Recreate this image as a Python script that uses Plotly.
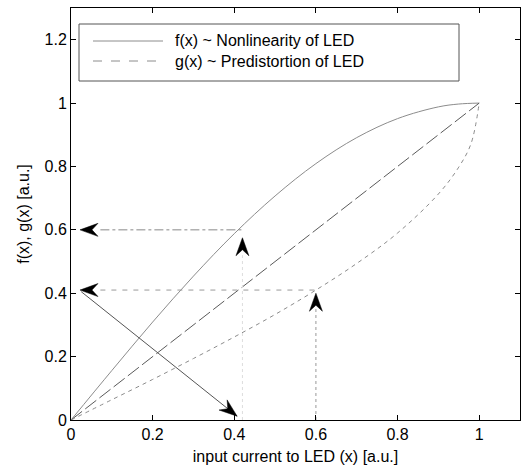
import plotly.graph_objects as go

# ---- data ----
x_f = [0.0, 0.1, 0.2, 0.3, 0.4, 0.5, 0.6, 0.7, 0.8, 0.9, 0.95, 1.0]
f_vals = [0.0, 0.156, 0.309, 0.454, 0.588, 0.707, 0.809, 0.891, 0.951, 0.988, 0.997, 1.0]

x_g = [0.0, 0.1, 0.2, 0.3, 0.4, 0.5, 0.6, 0.7, 0.8, 0.9, 0.95, 0.98, 1.0]
g_vals = [0.0, 0.064, 0.128, 0.194, 0.262, 0.333, 0.410, 0.494, 0.590, 0.713, 0.798, 0.872, 1.0]

x_diag = [0.0, 1.0]
y_diag = [0.0, 1.0]

# operating-point values used by the arrows
x_orig = 0.60      # original input
g_level = 0.41     # g(x_orig)
x_pre = 0.42       # predistorted input
f_level = 0.60     # f(x_pre)
x_left = 0.022     # where horizontal arrows end (near y axis)

x_ticks = [0, 0.2, 0.4, 0.6, 0.8, 1]
y_ticks = [0, 0.2, 0.4, 0.6, 0.8, 1, 1.2]
legend_names = ["f(x) ~ Nonlinearity of LED", "g(x) ~ Predistortion of LED"]

FONT = "Liberation Sans, Arial, Helvetica, sans-serif"

# plot geometry (pixels)
L, R, T, B = 71, 2, 8, 46
W, H = 522, 466
pw, ph = W - L - R, H - T - B
xr, yr = [0, 1.1], [0, 1.3]
sx = pw / (xr[1] - xr[0])
sy = ph / (yr[1] - yr[0])

HEAD_LEN, HEAD_HALF, NOTCH = 18, 6.5, 12


def head_path(tip, tail):
    """MATLAB-like notched arrow head at data point `tip`, pointing away from `tail`."""
    dxp = (tip[0] - tail[0]) * sx
    dyp = -(tip[1] - tail[1]) * sy  # screen y (down)
    n = (dxp ** 2 + dyp ** 2) ** 0.5
    ux, uy = dxp / n, dyp / n
    nx, ny = -uy, ux

    def pt(back, side):
        px = -ux * back + nx * side
        py = -uy * back + ny * side
        return tip[0] + px / sx, tip[1] - py / sy

    pts = [pt(0, 0), pt(HEAD_LEN, HEAD_HALF), pt(NOTCH, 0), pt(HEAD_LEN, -HEAD_HALF)]
    return "M" + " L".join(f"{a:.5f},{b:.5f}" for a, b in pts) + " Z"


fig = go.Figure()

# main curves
fig.add_trace(go.Scatter(x=x_f, y=f_vals, mode="lines", name=legend_names[0],
                         line=dict(color="#8c8c8c", width=1, shape="spline"), showlegend=False))
fig.add_trace(go.Scatter(x=x_diag, y=y_diag, mode="lines", name="x",
                         line=dict(color="#5a5a5a", width=1, dash="14px,4px"), showlegend=False))
fig.add_trace(go.Scatter(x=x_g, y=g_vals, mode="lines", name=legend_names[1],
                         line=dict(color="#8c8c8c", width=1, dash="4px,4px", shape="spline"), showlegend=False))

# helper lines
fig.add_trace(go.Scatter(x=[x_left + 0.05, x_pre], y=[f_level, f_level], mode="lines",
                         line=dict(color="#888888", width=1, dash="dashdot"), showlegend=False))
fig.add_trace(go.Scatter(x=[x_left + 0.05, x_orig], y=[g_level, g_level], mode="lines",
                         line=dict(color="#9a9a9a", width=1, dash="5px,6px"), showlegend=False))
fig.add_trace(go.Scatter(x=[x_orig, x_orig], y=[0, g_level - 0.06], mode="lines",
                         line=dict(color="#999999", width=1, dash="dot"), showlegend=False))
fig.add_trace(go.Scatter(x=[x_pre, x_pre], y=[0, f_level - 0.08], mode="lines",
                         line=dict(color="#dddddd", width=1, dash="dot"), showlegend=False))
# mirror line from g level on the y axis to x_pre on the x axis
diag_start = (x_left + 0.003, g_level - 0.005)
diag_end = (x_pre - 0.013, 0.012)
fig.add_trace(go.Scatter(x=[diag_start[0], diag_end[0]], y=[diag_start[1], diag_end[1]],
                         mode="lines", line=dict(color="#555555", width=1), showlegend=False))

# arrow heads
heads = [
    ((x_left, f_level), (x_pre, f_level)),
    ((x_left, g_level), (x_orig, g_level)),
    ((x_pre, f_level - 0.025), (x_pre, 0)),
    ((x_orig, g_level - 0.01), (x_orig, 0)),
    (diag_end, diag_start),
]
shapes = [dict(type="path", xref="x", yref="y", path=head_path(tip, tail),
               fillcolor="black", line=dict(color="black", width=0.5), layer="above")
          for tip, tail in heads]

annotations = []
# custom legend (MATLAB-like box)
lx0, lx1 = (79 - L) / pw, (459 - L) / pw
ly0, ly1 = (H - B - 81) / ph, (H - B - 24) / ph
shapes.append(dict(type="rect", xref="paper", yref="paper", x0=lx0, x1=lx1, y0=ly0, y1=ly1,
                   line=dict(color="#555555", width=1), fillcolor="white", layer="above"))
row_y = [(H - B - 41) / ph, (H - B - 61) / ph]
seg_x = [(93 - L) / pw, (163 - L) / pw]
styles = [dict(color="#8c8c8c", width=1), dict(color="#8c8c8c", width=1, dash="dash")]
for yy, st, name in zip(row_y, styles, legend_names):
    shapes.append(dict(type="line", xref="paper", yref="paper", x0=seg_x[0], x1=seg_x[1],
                       y0=yy, y1=yy, line=st, layer="above"))
    annotations.append(dict(xref="paper", yref="paper", x=(173 - L) / pw, y=yy, text=name,
                            showarrow=False, xanchor="left", yanchor="middle",
                            font=dict(family=FONT, size=16, color="black")))

axis_common = dict(showline=True, linecolor="black", linewidth=1, mirror="ticks",
                   ticks="inside", ticklen=5, tickcolor="black", showgrid=False, zeroline=False,
                   tickfont=dict(family=FONT, size=16, color="black"))

fig.update_layout(
    width=W, height=H,
    margin=dict(l=L, r=R, t=T, b=B, autoexpand=False),
    paper_bgcolor="white", plot_bgcolor="white",
    xaxis=dict(range=xr, tickvals=x_ticks, ticktext=[f"{v:g}" for v in x_ticks],
               title=dict(text="input current to LED (x) [a.u.]", font=dict(family=FONT, size=16, color="black"),
                          standoff=8),
               automargin=False, **axis_common),
    yaxis=dict(range=yr, tickvals=y_ticks, ticktext=[f"{v:g}" for v in y_ticks],
               title=dict(text="f(x), g(x) [a.u.]", font=dict(family=FONT, size=16, color="black"),
                          standoff=10),
               automargin=False, **axis_common),
    annotations=annotations, shapes=shapes,
    showlegend=False,
)

fig.write_html("out.html")
